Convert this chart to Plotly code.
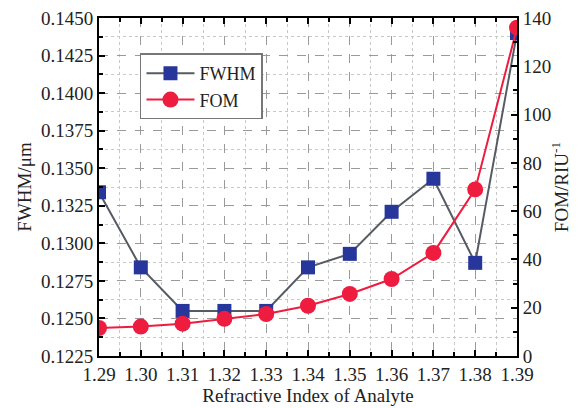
import plotly.graph_objects as go

ri = [1.29, 1.30, 1.31, 1.32, 1.33, 1.34, 1.35, 1.36, 1.37, 1.38, 1.39]
fwhm = [0.1334, 0.1284, 0.1255, 0.1255, 0.1255, 0.1284, 0.1293, 0.1321, 0.1343, 0.1287, 0.1440]
fom = [11.6, 12.2, 13.4, 15.4, 17.4, 20.8, 25.7, 31.9, 42.7, 69.0, 136.0]

font_fam = "Liberation Serif"
tick_size = 19

fig = go.Figure()
fig.add_trace(go.Scatter(
    x=ri, y=fwhm, name="FWHM", mode="lines+markers",
    line=dict(color="#565b63", width=2),
    marker=dict(symbol="square", size=14, color="#27369a"),
))
fig.add_trace(go.Scatter(
    x=ri, y=fom, name="FOM", mode="lines+markers", yaxis="y2",
    line=dict(color="#ee1c3f", width=2),
    marker=dict(symbol="circle", size=16, color="#ee1c3f"),
))

axis_common = dict(
    showline=True, linecolor="black", linewidth=2,
    ticks="inside", ticklen=6, tickwidth=1.5, tickcolor="black",
    tickfont=dict(family=font_fam, size=tick_size, color="#222"),
    zeroline=False, automargin=False, ticklabeloverflow="allow",
)

# page body has an 8px default margin; figure is sized to fit the 582x408 window
fig.update_layout(
    width=574, height=400,
    margin=dict(l=91, r=65, t=10, b=52),
    paper_bgcolor="white", plot_bgcolor="white",
    font=dict(family=font_fam, size=tick_size, color="#222"),
    showlegend=True,
    legend=dict(
        x=0.098, y=0.895, xanchor="left", yanchor="top",
        bgcolor="white", bordercolor="#777", borderwidth=1.5,
        font=dict(family=font_fam, size=18, color="#222"),
        itemwidth=48, tracegroupgap=0,
    ),
    xaxis=dict(
        axis_common,
        range=[1.29, 1.39], dtick=0.01, tick0=1.29, tickformat=".2f",
        mirror="ticks",
        showgrid=True, gridcolor="#9a9a9a", griddash="dash", gridwidth=1,
        minor=dict(dtick=0.005, ticks="inside", ticklen=4, tickcolor="black",
                   showgrid=True, gridcolor="#c8c8c8", griddash="dot", gridwidth=1),
        title=dict(text="Refractive Index of Analyte", standoff=4,
                   font=dict(family=font_fam, size=19, color="#222")),
    ),
    yaxis=dict(
        axis_common,
        range=[0.1225, 0.1450], dtick=0.0025, tick0=0.1225, tickformat=".4f",
        showgrid=True, gridcolor="#9a9a9a", griddash="dash", gridwidth=1,
        minor=dict(dtick=0.00125, ticks="inside", ticklen=4, tickcolor="black",
                   showgrid=True, gridcolor="#c8c8c8", griddash="dot", gridwidth=1),
        title=dict(text="FWHM/μm", standoff=4,
                   font=dict(family=font_fam, size=19, color="#222")),
    ),
    yaxis2=dict(
        axis_common,
        overlaying="y", side="right",
        range=[0, 140], dtick=20, tick0=0,
        showgrid=False,
        minor=dict(dtick=10, ticks="inside", ticklen=4, tickcolor="black", showgrid=False),
        title=dict(text="FOM/RIU<sup>-1</sup>", standoff=4,
                   font=dict(family=font_fam, size=19, color="#222")),
    ),
)

fig.write_html("out.html")
